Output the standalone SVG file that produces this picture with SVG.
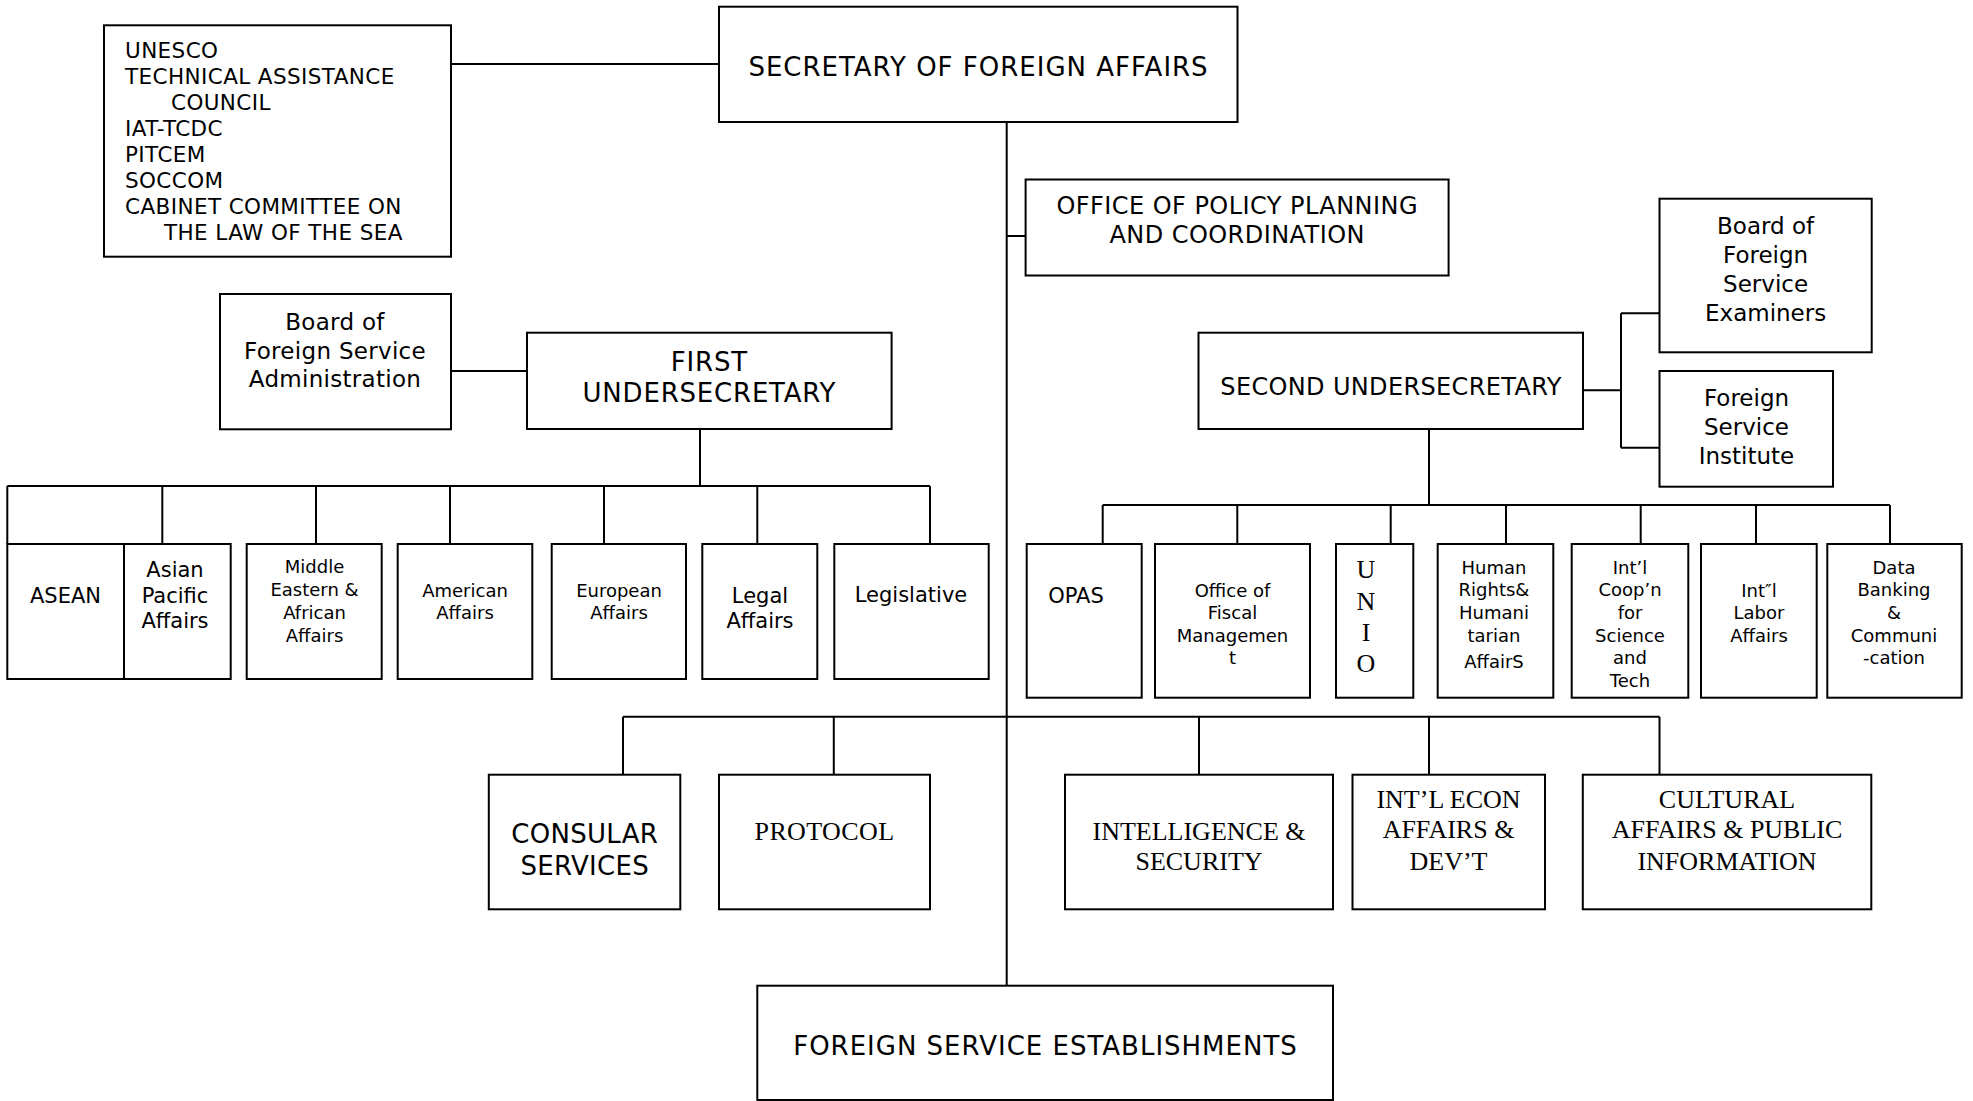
<svg xmlns="http://www.w3.org/2000/svg" width="1973" height="1101" viewBox="0 0 1973 1101">
<style>
.box{fill:#fff;stroke:#000;stroke-width:2}
.ln{fill:none;stroke:#000;stroke-width:2}
.s{font-family:"DejaVu Sans","Liberation Sans",sans-serif;fill:#000;text-anchor:middle}
.sl{font-family:"DejaVu Sans","Liberation Sans",sans-serif;fill:#000;font-size:21.5px;letter-spacing:0.4px}
.r{font-family:"Liberation Serif","Times New Roman",serif;fill:#000;text-anchor:middle}
.f26{font-size:26px}.f24{font-size:24px}.f23{font-size:23px}.f21{font-size:21px}.f18{font-size:18px}
</style>
<rect width="1973" height="1101" fill="#fff"/>
<g id="connectors">
<path class="ln" d="M451 64H719"/>
<path class="ln" d="M1006.7 122V986"/>
<path class="ln" d="M1006.7 236H1025.6"/>
<path class="ln" d="M451 371H527"/>
<path class="ln" d="M700 429V486"/>
<path class="ln" d="M7.3 486H930"/>
<path class="ln" d="M7.3 486V544M162.3 486V544M316 486V544M450 486V544M604 486V544M757.3 486V544M930 486V544"/>
<path class="ln" d="M1429 429V505"/>
<path class="ln" d="M1102.7 505H1890"/>
<path class="ln" d="M1102.7 505V544M1237.3 505V544M1390.7 505V544M1506 505V544M1640.7 505V544M1756 505V544M1890 505V544"/>
<path class="ln" d="M1583 390.3H1621M1621 313.3V447.7M1621 313.3H1659.5M1621 447.7H1659.5"/>
<path class="ln" d="M623 716.7H1659.5"/>
<path class="ln" d="M623 716.7V774.7M833.8 716.7V774.7M1199 716.7V774.7M1429 716.7V774.7M1659.5 716.7V774.7"/>
</g>
<g id="secretary">
<rect class="box" x="719" y="6.7" width="518.5" height="115.3"/>
<text class="s f26" x="978.5" y="76" style="letter-spacing:1px">SECRETARY OF FOREIGN AFFAIRS</text>
</g>
<g id="councils">
<rect class="box" x="104" y="25.3" width="347" height="231.4"/>
<text class="sl" x="125" y="58">UNESCO</text>
<text class="sl" x="125" y="84">TECHNICAL ASSISTANCE</text>
<text class="sl" x="171" y="110">COUNCIL</text>
<text class="sl" x="125" y="136">IAT-TCDC</text>
<text class="sl" x="125" y="162">PITCEM</text>
<text class="sl" x="125" y="188">SOCCOM</text>
<text class="sl" x="125" y="214">CABINET COMMITTEE ON</text>
<text class="sl" x="164" y="239.5">THE LAW OF THE SEA</text>
</g>
<g id="policy-planning">
<rect class="box" x="1025.6" y="179.5" width="423" height="96"/>
<text class="s f24" x="1237.2" y="213.5" style="letter-spacing:0.45px">OFFICE OF POLICY PLANNING</text>
<text class="s f24" x="1237.2" y="243" style="letter-spacing:0.45px">AND COORDINATION</text>
</g>
<g id="board-fsa">
<rect class="box" x="220" y="294" width="231" height="135.3"/>
<text class="s f23" x="335" y="330" style="letter-spacing:0.3px">Board of</text>
<text class="s f23" x="335" y="359" style="letter-spacing:0.3px">Foreign Service</text>
<text class="s f23" x="335" y="387" style="letter-spacing:0.3px">Administration</text>
</g>
<g id="first-us">
<rect class="box" x="527" y="332.7" width="364.6" height="96.3"/>
<text class="s f26" x="709.4" y="370.7" style="letter-spacing:0.8px">FIRST</text>
<text class="s f26" x="709.4" y="401.5" style="letter-spacing:0.8px">UNDERSECRETARY</text>
</g>
<g id="second-us">
<rect class="box" x="1198.5" y="332.7" width="384.5" height="96.3"/>
<text class="s f24" x="1391" y="395" style="letter-spacing:0.35px">SECOND UNDERSECRETARY</text>
</g>
<g id="board-fse">
<rect class="box" x="1659.5" y="198.7" width="212.2" height="153.6"/>
<text class="s f23" x="1765.6" y="234.2">Board of</text>
<text class="s f23" x="1765.6" y="263.2">Foreign</text>
<text class="s f23" x="1765.6" y="292.2">Service</text>
<text class="s f23" x="1765.6" y="321.2">Examiners</text>
</g>
<g id="fsi">
<rect class="box" x="1659.5" y="371" width="173.5" height="115.7"/>
<text class="s f23" x="1746.5" y="406.2">Foreign</text>
<text class="s f23" x="1746.5" y="435.2">Service</text>
<text class="s f23" x="1746.5" y="464.2">Institute</text>
</g>
<g id="asean">
<rect class="box" x="7.3" y="544" width="116.7" height="135"/>
<text class="s f21" x="65.5" y="602.5">ASEAN</text>
</g>
<g id="asian-pacific">
<rect class="box" x="124" y="544" width="106.7" height="135"/>
<text class="s f21" x="175" y="577">Asian</text>
<text class="s f21" x="175" y="603">Pacific</text>
<text class="s f21" x="175" y="628">Affairs</text>
</g>
<g id="middle-eastern">
<rect class="box" x="246.7" y="544" width="135" height="135"/>
<text class="s f18" x="314.5" y="573.3">Middle</text>
<text class="s f18" x="314.5" y="596">Eastern &amp;</text>
<text class="s f18" x="314.5" y="619">African</text>
<text class="s f18" x="314.5" y="642">Affairs</text>
</g>
<g id="american">
<rect class="box" x="397.7" y="544" width="134.6" height="135"/>
<text class="s f18" x="465" y="596.5">American</text>
<text class="s f18" x="465" y="619">Affairs</text>
</g>
<g id="european">
<rect class="box" x="551.7" y="544" width="134.3" height="135"/>
<text class="s f18" x="619" y="596.5">European</text>
<text class="s f18" x="619" y="619">Affairs</text>
</g>
<g id="legal">
<rect class="box" x="702.3" y="544" width="115" height="135"/>
<text class="s f21" x="760" y="603">Legal</text>
<text class="s f21" x="760" y="627.5">Affairs</text>
</g>
<g id="legislative">
<rect class="box" x="834.3" y="544" width="154.4" height="135"/>
<text class="s f21" x="911" y="602">Legislative</text>
</g>
<g id="opas">
<rect class="box" x="1026.7" y="544" width="115" height="153.7"/>
<text class="s f21" x="1076" y="602.5">OPAS</text>
</g>
<g id="fiscal">
<rect class="box" x="1155" y="544" width="155" height="153.7"/>
<text class="s f18" x="1232.5" y="596.5">Office of</text>
<text class="s f18" x="1232.5" y="619">Fiscal</text>
<text class="s f18" x="1232.5" y="641.5">Managemen</text>
<text class="s f18" x="1232.5" y="663.5">t</text>
</g>
<g id="unio">
<rect class="box" x="1336" y="544" width="77.3" height="153.7"/>
<text class="r f26" x="1366" y="578">U</text>
<text class="r f26" x="1366" y="610">N</text>
<text class="r f26" x="1366" y="641">I</text>
<text class="r f26" x="1366" y="672">O</text>
</g>
<g id="human-rights">
<rect class="box" x="1437.7" y="544" width="115.6" height="153.7"/>
<text class="s f18" x="1494" y="573.5">Human</text>
<text class="s f18" x="1494" y="596">Rights&amp;</text>
<text class="s f18" x="1494" y="619">Humani</text>
<text class="s f18" x="1494" y="641.5">tarian</text>
<text class="s f18" x="1494" y="668">AffairS</text>
</g>
<g id="intl-coop">
<rect class="box" x="1571.7" y="544" width="116.6" height="153.7"/>
<text class="s f18" x="1630" y="573.5">Int’l</text>
<text class="s f18" x="1630" y="596">Coop’n</text>
<text class="s f18" x="1630" y="619">for</text>
<text class="s f18" x="1630" y="641.5">Science</text>
<text class="s f18" x="1630" y="664">and</text>
<text class="s f18" x="1630" y="686.5">Tech</text>
</g>
<g id="intl-labor">
<rect class="box" x="1701" y="544" width="115.7" height="153.7"/>
<text class="s f18" x="1759" y="596.5">Int″l</text>
<text class="s f18" x="1759" y="619">Labor</text>
<text class="s f18" x="1759" y="641.5">Affairs</text>
</g>
<g id="data-banking">
<rect class="box" x="1827.3" y="544" width="134.4" height="153.7"/>
<text class="s f18" x="1894" y="573.5">Data</text>
<text class="s f18" x="1894" y="596">Banking</text>
<text class="s f18" x="1894" y="619">&amp;</text>
<text class="s f18" x="1894" y="641.5">Communi</text>
<text class="s f18" x="1894" y="664">-cation</text>
</g>
<g id="consular">
<rect class="box" x="488.8" y="774.7" width="191.5" height="134.6"/>
<text class="s f26" x="584.7" y="843" style="letter-spacing:0.3px">CONSULAR</text>
<text class="s f26" x="584.7" y="875" style="letter-spacing:0.3px">SERVICES</text>
</g>
<g id="protocol">
<rect class="box" x="719" y="774.7" width="211" height="134.6"/>
<text class="r f26" x="824.5" y="840" style="letter-spacing:0.4px">PROTOCOL</text>
</g>
<g id="intelligence">
<rect class="box" x="1065" y="774.7" width="268" height="134.6"/>
<text class="r f26" x="1199" y="840">INTELLIGENCE &amp;</text>
<text class="r f26" x="1199" y="870">SECURITY</text>
</g>
<g id="intl-econ">
<rect class="box" x="1352.5" y="774.7" width="192.5" height="134.6"/>
<text class="r f26" x="1448.5" y="808">INT’L ECON</text>
<text class="r f26" x="1448.5" y="838">AFFAIRS &amp;</text>
<text class="r f26" x="1448.5" y="870">DEV’T</text>
</g>
<g id="cultural">
<rect class="box" x="1582.8" y="774.7" width="288.5" height="134.6"/>
<text class="r f26" x="1727" y="808">CULTURAL</text>
<text class="r f26" x="1727" y="838">AFFAIRS &amp; PUBLIC</text>
<text class="r f26" x="1727" y="870">INFORMATION</text>
</g>
<g id="fse">
<rect class="box" x="757.3" y="985.7" width="575.7" height="114.3"/>
<text class="s f26" x="1045.5" y="1055" style="letter-spacing:1px">FOREIGN SERVICE ESTABLISHMENTS</text>
</g>
</svg>
